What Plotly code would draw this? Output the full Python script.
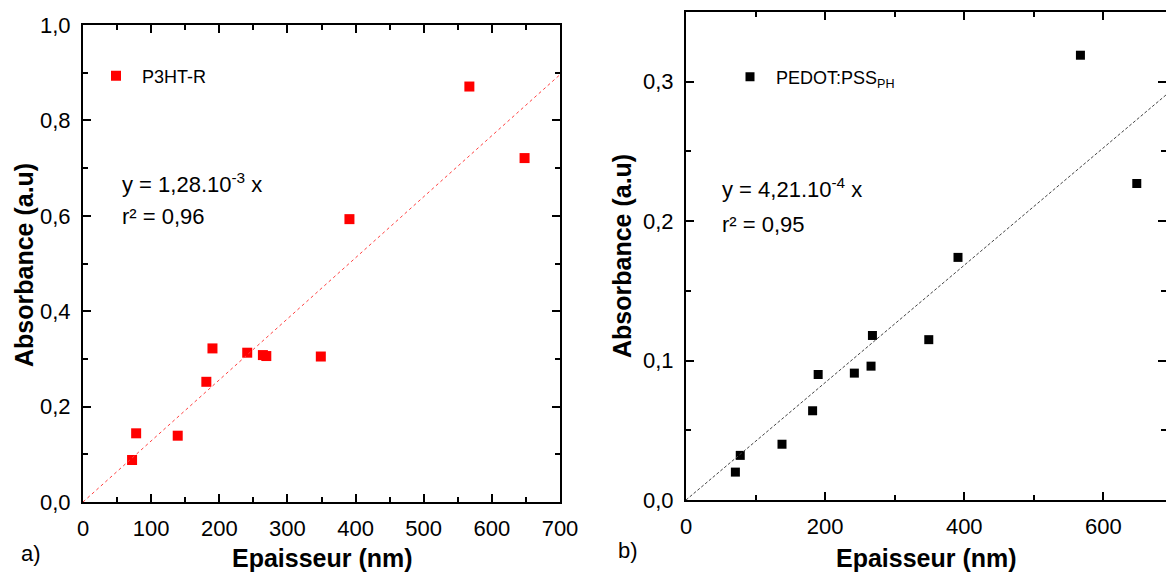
import plotly.graph_objects as go

# ---- data ----
thickness_a = [72, 78, 139, 181, 190, 241, 264, 269, 349, 391, 567, 648]
absorb_a = [0.088, 0.144, 0.139, 0.252, 0.322, 0.313, 0.308, 0.306, 0.305, 0.593, 0.871, 0.721]
slope_a = 1.28e-3

thickness_b = [71, 78, 138, 182, 190, 242, 266, 268, 349, 391, 567, 648]
absorb_b = [0.020, 0.032, 0.040, 0.064, 0.090, 0.091, 0.096, 0.118, 0.115, 0.174, 0.319, 0.227]
slope_b = 4.21e-4

fit_x_a = [0, 700]
fit_x_b = [0, 700]

name_a = "P3HT-R"
name_b = "PEDOT:PSS<sub>PH</sub>"

FONT = "Liberation Sans, Arial, sans-serif"

fig = go.Figure()

fig.add_trace(go.Scatter(x=thickness_a, y=absorb_a, mode="markers", name=name_a,
                         marker=dict(symbol="square", size=10, color="#FF0000"),
                         xaxis="x", yaxis="y", legend="legend"))
fig.add_trace(go.Scatter(x=fit_x_a, y=[slope_a * v for v in fit_x_a], mode="lines",
                         line=dict(color="#FF4040", width=1, dash="dot"),
                         showlegend=False, xaxis="x", yaxis="y"))

fig.add_trace(go.Scatter(x=thickness_b, y=absorb_b, mode="markers", name=name_b,
                         marker=dict(symbol="square", size=9, color="black"),
                         xaxis="x2", yaxis="y2", legend="legend2"))
fig.add_trace(go.Scatter(x=fit_x_b, y=[slope_b * v for v in fit_x_b], mode="lines",
                         line=dict(color="#444444", width=1, dash="3px,2px"),
                         showlegend=False, xaxis="x2", yaxis="y2"))

axis_common = dict(showline=True, linewidth=2, linecolor="black", mirror="ticks",
                   ticks="inside", ticklen=8, tickwidth=2, tickcolor="black",
                   showgrid=False, zeroline=False, automargin=False,
                   tickfont=dict(family=FONT, size=22, color="black"))

fig.update_layout(
    width=1166, height=574,
    margin=dict(l=0, r=0, t=0, b=0, autoexpand=False),
    paper_bgcolor="white", plot_bgcolor="white",
    separators=", ",
    font=dict(family=FONT, color="black"),
    xaxis=dict(domain=[83/1166, 560/1166], range=[0, 700], dtick=100, tickformat="d",
               minor=dict(ticks="inside", dtick=50, ticklen=5, tickwidth=1.5, tickcolor="black"),
               ticklabelstandoff=6, anchor="y", **axis_common),
    yaxis=dict(domain=[72/574, 549/574], range=[0, 1.0], dtick=0.2, tickformat=".1f",
               minor=dict(ticks="inside", dtick=0.1, ticklen=5, tickwidth=1.5, tickcolor="black"),
               ticklabelstandoff=6, anchor="x", **axis_common),
    xaxis2=dict(domain=[686/1166, 1.0], range=[0, 690], dtick=200, tickformat="d",
                minor=dict(ticks="inside", dtick=100, ticklen=5, tickwidth=1.5, tickcolor="black"),
                ticklabelstandoff=6, anchor="y2", **axis_common),
    yaxis2=dict(domain=[74/574, 562/574], range=[0, 0.35], dtick=0.1, tickformat=".1f",
                minor=dict(ticks="inside", dtick=0.05, ticklen=5, tickwidth=1.5, tickcolor="black"),
                ticklabelstandoff=6, anchor="x2", **axis_common),
    legend=dict(x=90/1166, y=1 - 76/574, xanchor="left", yanchor="middle",
                bgcolor="rgba(0,0,0,0)", font=dict(family=FONT, size=18, color="black"),
                itemwidth=42),
    legend2=dict(x=724/1166, y=1 - 77/574, xanchor="left", yanchor="middle",
                 bgcolor="rgba(0,0,0,0)", font=dict(family=FONT, size=18, color="black"),
                 itemwidth=42),
    showlegend=True,
)

ann_font = dict(family=FONT, size=22, color="black")
title_font = dict(family=FONT, size=25, color="black")
annotations = [
    dict(text="y = 1,28.10<sup>-3</sup> x", x=120/1166, y=1 - 183/574, xanchor="left", yanchor="middle", font=ann_font),
    dict(text="r² = 0,96", x=120/1166, y=1 - 216/574, xanchor="left", yanchor="middle", font=ann_font),
    dict(text="y = 4,21.10<sup>-4</sup> x", x=720/1166, y=1 - 188/574, xanchor="left", yanchor="middle", font=ann_font),
    dict(text="r² = 0,95", x=720/1166, y=1 - 224/574, xanchor="left", yanchor="middle", font=ann_font),
    dict(text="a)", x=19/1166, y=1 - 553/574, xanchor="left", yanchor="middle", font=ann_font),
    dict(text="b)", x=616/1166, y=1 - 550/574, xanchor="left", yanchor="middle", font=ann_font),
    dict(text="<b>Epaisseur (nm)</b>", x=322/1166, y=1 - 558/574, xanchor="center", yanchor="middle", font=title_font),
    dict(text="<b>Epaisseur (nm)</b>", x=926/1166, y=1 - 558/574, xanchor="center", yanchor="middle", font=title_font),
    dict(text="<b>Absorbance (a.u)</b>", x=24/1166, y=1 - 265/574, xanchor="center", yanchor="middle", textangle=-90, font=title_font),
    dict(text="<b>Absorbance (a.u)</b>", x=622/1166, y=1 - 256/574, xanchor="center", yanchor="middle", textangle=-90, font=title_font),
]
for a in annotations:
    a.update(xref="paper", yref="paper", showarrow=False)
fig.update_layout(annotations=annotations)

fig.write_html("out.html", config={"displayModeBar": False},
               post_script="document.body.style.margin='0';document.body.style.overflow='hidden';")
